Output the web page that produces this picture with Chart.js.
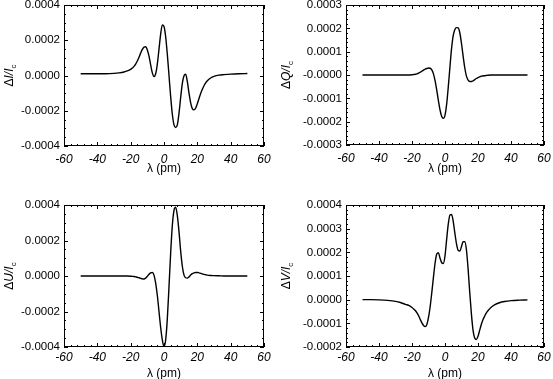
<!DOCTYPE html>
<html>
<head>
<meta charset="utf-8">
<script src="https://cdn.jsdelivr.net/npm/chart.js@4.4.1/dist/chart.umd.min.js"></script>
<style>
  html, body { margin: 0; padding: 0; background: #fff; }
  body { width: 553px; height: 379px; overflow: hidden; position: relative; }
  canvas { position: absolute; }
</style>
</head>
<body>
<canvas id="pI" width="276" height="189" style="left:0;top:0"></canvas>
<canvas id="pQ" width="277" height="189" style="left:276px;top:0"></canvas>
<canvas id="pU" width="276" height="201" style="left:0;top:189px"></canvas>
<canvas id="pV" width="277" height="201" style="left:276px;top:189px"></canvas>
<script>
// wavelength offsets (pm), shared by all four panels
const lambda = [-50, -45, -40, -35, -30, -27, -24, -22,
  -20, -19, -18, -17, -16, -15, -14, -13, -12, -11, -10, -9, -8, -7, -6, -5, -4, -3, -2, -1,
  0, 1, 2, 3, 4, 5, 6, 7, 8, 9, 10, 11, 12, 13, 14, 15, 16, 17, 18, 19, 20, 21, 22, 23, 24, 25, 26,
  28, 30, 33, 36, 40, 45, 50];

// profiles in units of 1e-4 (relative to continuum)
const deltaI = [0.1, 0.1, 0.1, 0.1, 0.12, 0.15, 0.2, 0.26,
  0.35, 0.42, 0.52, 0.65, 0.82, 1.03, 1.27, 1.48, 1.61, 1.63, 1.45, 1.1, 0.6, 0.15, -0.06, 0.1, 0.65, 1.5, 2.35, 2.87,
  2.78, 2.2, 1.2, 0.0, -1.2, -2.2, -2.8, -2.95, -2.8, -2.15, -1.25, -0.45, -0.02, 0.07, -0.35, -1.0, -1.55, -1.88, -1.95, -1.85, -1.6, -1.3, -1.02, -0.78, -0.58, -0.42, -0.3,
  -0.14, -0.05, 0.02, 0.05, 0.08, 0.1, 0.11];

const deltaQ = [0, 0, 0, 0, 0, 0, 0, 0,
  0.01, 0.02, 0.03, 0.05, 0.08, 0.12, 0.16, 0.21, 0.25, 0.28, 0.3, 0.29, 0.22, 0.05, -0.25, -0.65, -1.1, -1.5, -1.78, -1.86,
  -1.72, -1.25, -0.5, 0.35, 1.15, 1.7, 1.95, 2.03, 2.02, 1.8, 1.35, 0.8, 0.3, -0.05, -0.22, -0.28, -0.28, -0.25, -0.2, -0.15, -0.11, -0.08, -0.05, -0.04, -0.03, -0.02, -0.01,
  0, 0, 0, 0, 0, 0, 0];

const deltaU = [0, 0, 0, 0, 0, 0, 0, 0,
  -0.01, -0.02, -0.03, -0.05, -0.07, -0.1, -0.13, -0.16, -0.17, -0.12, -0.02, 0.1, 0.18, 0.2, 0.05, -0.4, -1.1, -2.0, -2.9, -3.6,
  -3.97, -3.6, -2.4, -0.6, 1.3, 2.85, 3.7, 3.88, 3.4, 2.5, 1.4, 0.55, 0.05, -0.1, -0.12, -0.05, 0.05, 0.13, 0.18, 0.2, 0.2, 0.18, 0.15, 0.12, 0.09, 0.07, 0.05,
  0.03, 0.02, 0.01, 0, 0, 0, 0];

const deltaV = [0, 0, -0.01, -0.03, -0.07, -0.12, -0.2, -0.24,
  -0.33, -0.39, -0.46, -0.56, -0.68, -0.84, -0.98, -1.09, -1.14, -1.05, -0.75, -0.3, 0.3, 0.95, 1.55, 1.93, 1.98, 1.75, 1.56, 1.53,
  1.85, 2.55, 3.2, 3.58, 3.6, 3.3, 2.8, 2.35, 2.08, 2.05, 2.25, 2.45, 2.45, 2.1, 1.3, 0.3, -0.6, -1.3, -1.62, -1.68, -1.55, -1.3, -1.05, -0.85, -0.7, -0.57, -0.47,
  -0.32, -0.22, -0.13, -0.08, -0.04, -0.02, -0.01];

// tick labels
const xTickLabels = ["-60", "-40", "-20", "0", "20", "40", "60"];
const yTicksI = ["-0.0004", "-0.0002", "0.0000", "0.0002", "0.0004"];
const yTicksQ = ["-0.0003", "-0.0002", "-0.0001", "-0.0000", "0.0001", "0.0002", "0.0003"];
const yTicksU = ["-0.0004", "-0.0002", "0.0000", "0.0002", "0.0004"];
const yTicksV = ["-0.0002", "-0.0001", "0.0000", "0.0001", "0.0002", "0.0003", "0.0004"];

const FONT = "'Liberation Sans', Arial, Helvetica, sans-serif";

// draws the box, inward ticks on all four sides and the y title with subscript
const framePlugin = {
  id: "frame",
  afterDraw(chart) {
    const o = chart.options.plugins.frame;
    const { ctx, chartArea: a } = chart;
    const xs = chart.scales.x, ys = chart.scales.y;
    ctx.save();
    ctx.strokeStyle = "#000";
    ctx.lineWidth = 1;
    ctx.strokeRect(a.left + 0.5, a.top + 0.5, a.right - a.left - 1, a.bottom - a.top - 1);

    ctx.beginPath();
    // x ticks, bottom and top
    for (let v = xs.min, i = 0; v <= xs.max + 1e-9; v += o.xMinor, i++) {
      const px = Math.round(xs.getPixelForValue(v)) + 0.5;
      const len = (i % o.xSub === 0) ? 4 : 2;
      ctx.moveTo(px, a.bottom); ctx.lineTo(px, a.bottom - len);
      ctx.moveTo(px, a.top); ctx.lineTo(px, a.top + len);
    }
    // y ticks, left and right
    for (let v = ys.min, i = 0; v <= ys.max + 1e-9; v += o.yMinor, i++) {
      const py = Math.round(ys.getPixelForValue(v)) + 0.5;
      const len = (i % o.ySub === 0) ? 4 : 2;
      ctx.moveTo(a.left, py); ctx.lineTo(a.left + len, py);
      ctx.moveTo(a.right, py); ctx.lineTo(a.right - len, py);
    }
    ctx.stroke();

    // rotated y title: Δ X / I_c
    const cy = (a.top + a.bottom) / 2;
    ctx.translate(o.titleX, cy);
    ctx.rotate(-Math.PI / 2);
    ctx.fillStyle = "#000";
    ctx.textBaseline = "alphabetic";
    const parts = [
      { t: "\u0394", f: "12px " + FONT, dy: 0 },
      { t: o.letter, f: "italic 12px " + FONT, dy: 0 },
      { t: "/", f: "italic 12px " + FONT, dy: 0 },
      { t: "I", f: "italic 12px " + FONT, dy: 0 },
      { t: "c", f: "8px " + FONT, dy: 3 }
    ];
    let total = 0;
    parts.forEach(p => { ctx.font = p.f; p.w = ctx.measureText(p.t).width; total += p.w; });
    let x = -total / 2;
    parts.forEach(p => { ctx.font = p.f; ctx.fillText(p.t, x, p.dy); x += p.w; });
    ctx.restore();
  }
};

function makePanel(id, values, yLabels, yMin, yMax, yStep, ySub, letter, pad, yWidth, xHeight, labelPad, titleX, titlePad) {
  const points = lambda.map((l, i) => ({ x: l, y: values[i] }));
  return new Chart(document.getElementById(id), {
    type: "line",
    data: {
      datasets: [{
        data: points,
        borderColor: "#000",
        borderWidth: 1.4,
        pointRadius: 0,
        fill: false,
        cubicInterpolationMode: "monotone"
      }]
    },
    options: {
      responsive: false,
      animation: false,
      devicePixelRatio: 1,
      layout: { padding: pad },
      plugins: {
        legend: { display: false },
        tooltip: { enabled: false },
        frame: { xMinor: 4, xSub: 5, yMinor: yStep / ySub, ySub: ySub, letter: letter, titleX: titleX }
      },
      scales: {
        x: {
          type: "linear",
          min: -60, max: 60,
          grid: { display: false, drawTicks: false },
          border: { display: false },
          ticks: {
            stepSize: 20,
            autoSkip: false,
            maxRotation: 0,
            padding: labelPad,
            color: "#000",
            font: { family: FONT, size: 12, style: "italic" },
            callback: (v, i) => xTickLabels[i]
          },
          title: {
            display: true,
            text: "\u03bb (pm)",
            color: "#000",
            font: { family: FONT, size: 12 },
            padding: { top: 0, bottom: titlePad }
          },
          afterFit: s => { s.height = xHeight; s.paddingLeft = 0; s.paddingRight = 0; }
        },
        y: {
          type: "linear",
          min: yMin, max: yMax,
          grid: { display: false, drawTicks: false },
          border: { display: false },
          ticks: {
            stepSize: yStep,
            autoSkip: false,
            padding: 4,
            color: "#000",
            font: { family: FONT, size: 11.5 },
            callback: (v, i) => yLabels[i]
          },
          afterFit: s => { s.width = yWidth; s.paddingTop = 0; s.paddingBottom = 0; }
        }
      }
    },
    plugins: [framePlugin]
  });
}

makePanel("pI", deltaI, yTicksI, -4, 4, 2, 4, "I", { left: 0, top: 5, right: 12, bottom: 0 }, 64, 43, 6, 12.5, 13);
makePanel("pQ", deltaQ, yTicksQ, -3, 3, 1, 5, "Q", { left: 0, top: 5, right: 9, bottom: 0 }, 70, 44, 6, 14, 13);
makePanel("pU", deltaU, yTicksU, -4, 4, 2, 4, "U", { left: 0, top: 16, right: 12, bottom: 0 }, 64, 43, 3, 12.5, 9);
makePanel("pV", deltaV, yTicksV, -2, 4, 1, 5, "V", { left: 0, top: 16, right: 9, bottom: 0 }, 70, 43, 3, 14, 9);
</script>
</body>
</html>
